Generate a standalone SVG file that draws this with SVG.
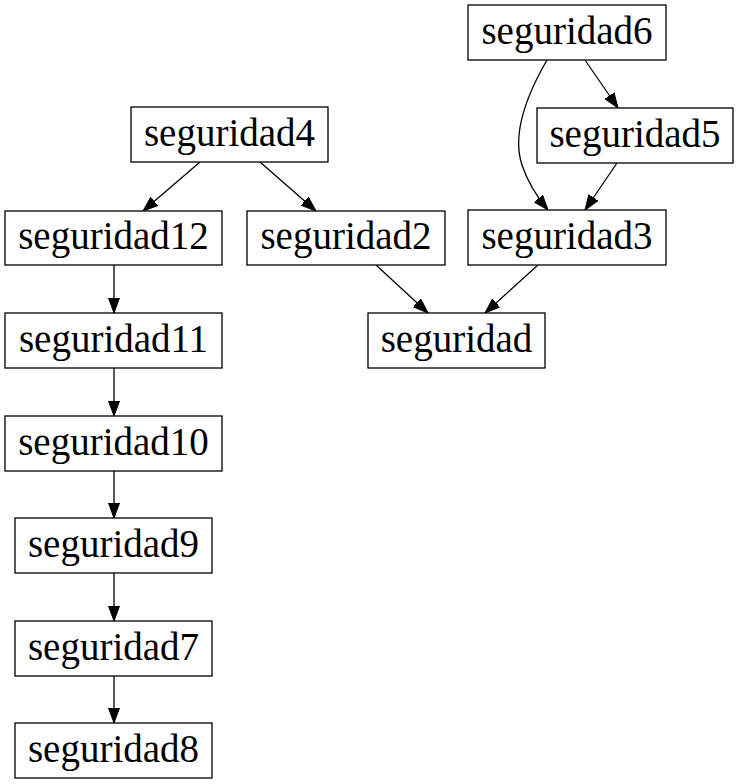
<svg xmlns="http://www.w3.org/2000/svg" width="739" height="784" viewBox="0 0 739 784">
<style>
.n rect{fill:#fff;stroke:#000;stroke-width:1.3}
.n text{font-family:"Liberation Serif","Times New Roman",serif;font-size:39px;text-anchor:middle;fill:#000}
.e path{fill:none;stroke:#000;stroke-width:1.3}
</style>
<defs>
<marker id="ah" markerUnits="userSpaceOnUse" markerWidth="16" markerHeight="12" refX="15" refY="6" orient="auto">
<path d="M0,0.5 L15,6 L0,11.5 Z" fill="#000" stroke="#000" stroke-width="1"/>
</marker>
</defs>
<rect width="739" height="784" fill="#fff"/>
<g id="edges" class="e">
<path d="M585,60 L618,108" marker-end="url(#ah)"/>
<path d="M547,60 C525,98 512,135 522,165 C528,183 537,197 548,210" marker-end="url(#ah)"/>
<path d="M617,163 L585,210" marker-end="url(#ah)"/>
<path d="M200,162 L143,211" marker-end="url(#ah)"/>
<path d="M260,162 L316,211" marker-end="url(#ah)"/>
<path d="M376,265 L428,313" marker-end="url(#ah)"/>
<path d="M538,265 L485,313" marker-end="url(#ah)"/>
<path d="M114,265 L114,313" marker-end="url(#ah)"/>
<path d="M114,368 L114,416" marker-end="url(#ah)"/>
<path d="M114,471 L114,518" marker-end="url(#ah)"/>
<path d="M114,573 L114,621" marker-end="url(#ah)"/>
<path d="M114,676 L114,723" marker-end="url(#ah)"/>
</g>
<g id="seguridad6" class="n"><rect x="468" y="5" width="198" height="55"/><text x="567" y="44">seguridad6</text></g>
<g id="seguridad5" class="n"><rect x="537" y="108" width="196" height="55"/><text x="635" y="147">seguridad5</text></g>
<g id="seguridad3" class="n"><rect x="468" y="210" width="198" height="55"/><text x="567" y="249">seguridad3</text></g>
<g id="seguridad4" class="n"><rect x="131" y="107" width="197" height="55"/><text x="229.5" y="146">seguridad4</text></g>
<g id="seguridad12" class="n"><rect x="5" y="211" width="217" height="54"/><text x="113.5" y="249">seguridad12</text></g>
<g id="seguridad2" class="n"><rect x="247" y="211" width="198" height="54"/><text x="346" y="249">seguridad2</text></g>
<g id="seguridad" class="n"><rect x="368" y="313" width="177" height="55"/><text x="456.5" y="352">seguridad</text></g>
<g id="seguridad11" class="n"><rect x="5" y="313" width="217" height="55"/><text x="113.5" y="352">seguridad11</text></g>
<g id="seguridad10" class="n"><rect x="5" y="416" width="217" height="55"/><text x="113.5" y="455">seguridad10</text></g>
<g id="seguridad9" class="n"><rect x="15" y="518" width="197" height="55"/><text x="113.5" y="557">seguridad9</text></g>
<g id="seguridad7" class="n"><rect x="15" y="621" width="197" height="55"/><text x="113.5" y="660">seguridad7</text></g>
<g id="seguridad8" class="n"><rect x="15" y="723" width="197" height="55"/><text x="113.5" y="762">seguridad8</text></g>
</svg>
